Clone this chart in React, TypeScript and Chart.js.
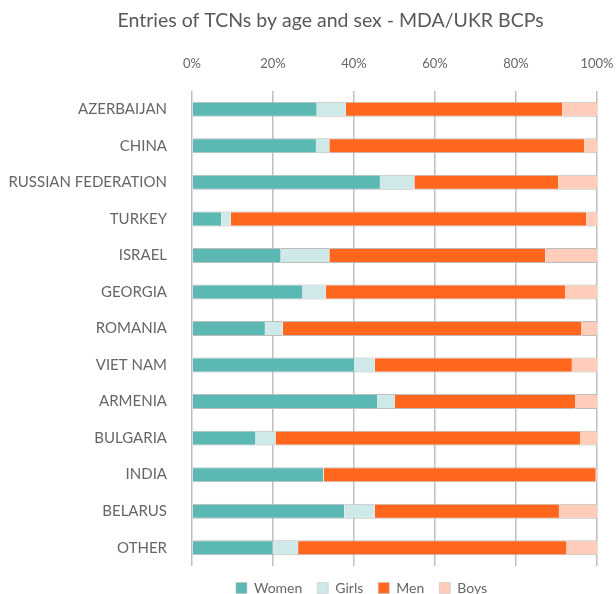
import React, { useEffect, useRef } from "react";
import { Chart, registerables } from "chart.js";

Chart.register(...registerables);

const categories = [
  "AZERBAIJAN",
  "CHINA",
  "RUSSIAN FEDERATION",
  "TURKEY",
  "ISRAEL",
  "GEORGIA",
  "ROMANIA",
  "VIET NAM",
  "ARMENIA",
  "BULGARIA",
  "INDIA",
  "BELARUS",
  "OTHER",
];

const women = [30.8, 30.6, 46.4, 7.2, 21.9, 27.3, 18.0, 40.0, 45.7, 15.7, 32.4, 37.6, 19.9];
const girls = [7.2, 3.3, 8.5, 2.4, 12.0, 5.7, 4.4, 5.1, 4.4, 4.9, 0.1, 7.5, 6.3];
const men = [53.4, 63.0, 35.5, 87.7, 53.3, 59.1, 73.8, 48.7, 44.6, 75.2, 67.2, 45.5, 66.3];
const boys = [8.6, 3.1, 9.6, 2.7, 12.8, 7.9, 3.8, 6.2, 5.3, 4.2, 0.3, 9.4, 7.5];

const seriesNames = ["Women", "Girls", "Men", "Boys"];
const seriesColors = ["#5BB8B3", "#CFE9E8", "#FF671F", "#FFCDB9"];

const FONT = "Lato, 'Open Sans', sans-serif";
const TITLE_COLOR = "#595959";
const TEXT = "#666666";

const shiftBoxes = {
  id: "shiftBoxes",
  afterLayout(chart: any) {
    const t = chart.titleBlock;
    if (t) {
      t.left += 32;
      t.right += 32;
    }
    const l = chart.legend;
    if (l) {
      l.left += 63;
      l.right += 63;
    }
  },
};

export default function App() {
  const ref = useRef<HTMLCanvasElement | null>(null);

  useEffect(() => {
    if (!ref.current) return;
    const values = [women, girls, men, boys];
    const chart = new Chart(ref.current, {
      type: "bar",
      data: {
        labels: categories,
        datasets: values.map((v, i) => ({
          label: seriesNames[i],
          data: v,
          backgroundColor: seriesColors[i],
          borderColor: "#BDBDBD",
          borderWidth: { top: 1, bottom: 1, left: 0, right: 0 },
          borderSkipped: false,
          categoryPercentage: 0.82,
          barPercentage: 0.5,
        })),
      },
      plugins: [shiftBoxes],
      options: {
        indexAxis: "y",
        animation: false,
        responsive: true,
        maintainAspectRatio: false,
        layout: { padding: { left: 0, right: 19, top: 0, bottom: -11 } },
        plugins: {
          title: {
            display: true,
            text: "Entries of TCNs by age and sex - MDA/UKR BCPs",
            color: TITLE_COLOR,
            font: { family: FONT, size: 19.5, weight: "normal" },
            padding: { top: 9, bottom: 23.8 },
          },
          legend: {
            position: "bottom",
            labels: {
              color: TEXT,
              font: { family: FONT, size: 14 },
              boxWidth: 11,
              boxHeight: 11,
              padding: 15,
            },
          },
          tooltip: { enabled: false },
        },
        scales: {
          x: {
            position: "top",
            stacked: true,
            min: 0,
            max: 100,
            ticks: {
              stepSize: 20,
              color: TEXT,
              font: { family: FONT, size: 13 },
              padding: 0,
              callback: (v: any) => v + "%",
            },
            grid: {
              color: "#BFBFBF",
              lineWidth: 1.5,
              drawTicks: true,
              tickLength: 19.2,
              tickColor: "rgba(0,0,0,0)",
            },
            border: { display: false },
          },
          y: {
            stacked: true,
            afterFit: (scale: any) => {
              scale.width = 192;
            },
            ticks: {
              color: TEXT,
              font: { family: FONT, size: 15 },
              padding: 17,
            },
            grid: { display: false },
            border: { display: false },
          },
        },
      },
    });
    return () => chart.destroy();
  }, []);

  return (
    <div style={{ position: "fixed", left: 0, top: 0, width: 616, height: 594, background: "#fff" }}>
      <canvas ref={ref} />
    </div>
  );
}
